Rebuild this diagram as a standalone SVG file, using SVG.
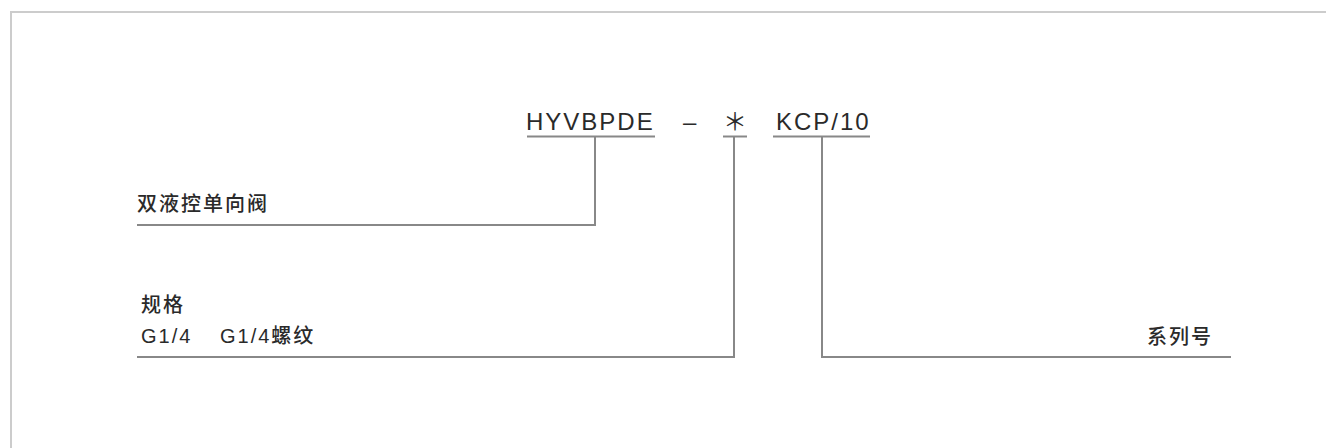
<svg xmlns="http://www.w3.org/2000/svg" width="1326" height="448" viewBox="0 0 1326 448">
<style>
.frame{fill:none;stroke:#cccccc;stroke-width:2}
.ln{fill:none;stroke:#888888;stroke-width:2}
.code{font-family:"Liberation Sans",Arial,sans-serif;font-size:24px;fill:#2a2a2a;letter-spacing:2px}
.lab{font-family:"Liberation Sans","Noto Sans CJK SC",sans-serif;font-size:20px;fill:#2a2a2a;font-weight:500;letter-spacing:2px}
</style>
<rect width="1326" height="448" fill="#ffffff"/>
<path class="frame" d="M11,460 L11,12 L1340,12"/>
<g id="code">
<text class="code" x="526" y="130">HYVBPDE</text>
<text class="code" x="683" y="130" letter-spacing="0">–</text>
<text x="735" y="130" text-anchor="middle" font-family="'Noto Sans CJK SC',sans-serif" font-size="24" fill="#2a2a2a">＊</text>
<text class="code" x="776" y="130">KCP/10</text>
</g>
<g id="connectors">
<line class="ln" x1="527" y1="136.5" x2="655" y2="136.5"/>
<line class="ln" x1="723" y1="136.5" x2="747" y2="136.5"/>
<line class="ln" x1="773" y1="136.5" x2="870" y2="136.5"/>
<polyline class="ln" points="595,136.5 595,225 137,225"/>
<polyline class="ln" points="734,136.5 734,357 137,357"/>
<polyline class="ln" points="822,136.5 822,357 1231,357"/>
</g>
<g id="node-valve">
<text class="lab" x="137" y="210.5" letter-spacing="2.3">双液控单向阀</text>
</g>
<g id="node-size">
<text class="lab" x="141" y="311.5" letter-spacing="1.5">规格</text>
<text class="lab" x="141" y="343" letter-spacing="1.5" font-weight="400">G1/4</text>
<text class="lab" x="220" y="343" letter-spacing="1.5">G1/4螺纹</text>
</g>
<g id="node-series">
<text class="lab" x="1147" y="343.5" letter-spacing="2">系列号</text>
</g>
</svg>
